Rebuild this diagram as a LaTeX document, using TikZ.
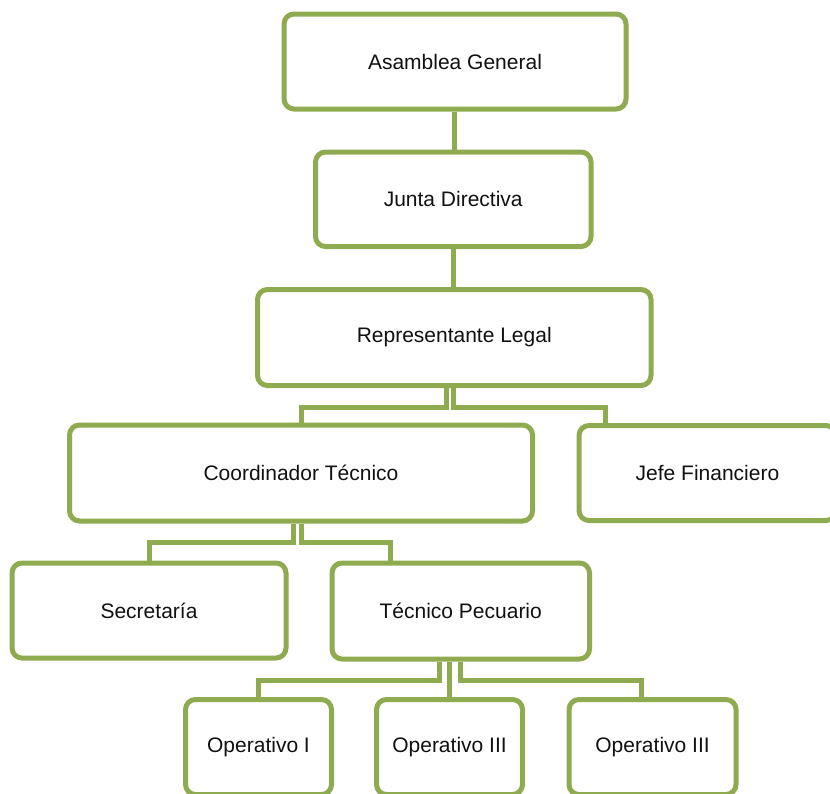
\documentclass[tikz,border=0pt]{standalone}
\usepackage{fontspec}
\setmainfont{Liberation Sans}
\usepackage{xcolor}
\usepackage{tikz}
\usetikzlibrary{positioning}
\definecolor{OrgGreen}{HTML}{8FAB4F}
\definecolor{OrgText}{HTML}{111111}
\tikzset{
  orgbox/.style={draw=OrgGreen,fill=white,line width=5pt,rounded corners=10pt,text=OrgText,font=\fontsize{21}{25}\selectfont,inner sep=0pt},
  orglink/.style={draw=OrgGreen,line width=5pt}
}
\begin{document}
\begin{tikzpicture}[x=1pt,y=-1pt]
\useasboundingbox (0,0) rectangle (830,793);
\node[orgbox,minimum width=342pt,minimum height=95pt] (asam) at (455,61.5) {Asamblea General};
\node[orgbox,minimum width=275.5pt,minimum height=94.5pt] (junta) at (453.25,199.25) {Junta Directiva};
\node[orgbox,minimum width=393.5pt,minimum height=96pt] (rep) at (454.25,337.5) {Representante Legal};
\node[orgbox,minimum width=463pt,minimum height=96pt] (coord) at (301,473) {Coordinador Técnico};
\node[orgbox,minimum width=257pt,minimum height=95pt] (jefe) at (707.5,473) {Jefe Financiero};
\node[orgbox,minimum width=274pt,minimum height=95pt] (secr) at (149,610.5) {Secretaría};
\node[orgbox,minimum width=257.5pt,minimum height=96pt] (tecn) at (460.75,611) {Técnico Pecuario};
\node[orgbox,minimum width=146pt,minimum height=95pt] (opa) at (258.5,747) {Operativo I};
\node[orgbox,minimum width=146pt,minimum height=95pt] (opb) at (449.5,747) {Operativo III};
\node[orgbox,minimum width=167pt,minimum height=95pt] (opc) at (652.5,747) {Operativo III};
% vertical links
\draw[orglink] ([xshift=-0.5pt]asam.south) -- ([xshift=-0.5pt]asam.south |- junta.north);
\draw[orglink] ([xshift=0.25pt]junta.south) -- ([xshift=0.25pt]junta.south |- rep.north);
% elbow links
\draw[orglink] ([xshift=-8pt]rep.south) -- ++(0,19) -| (coord.north);
\draw[orglink] ([xshift=-1pt]rep.south) -- ++(0,19) -| ([xshift=-102.5pt]jefe.north);
\draw[orglink] ([xshift=-8pt]coord.south) -- ++(0,19) -| (secr.north);
\draw[orglink] (coord.south) -- ++(0,19) -| ([xshift=-70pt]tecn.north);
\draw[orglink] ([xshift=-21pt]tecn.south) -- ++(0,19) -| (opa.north);
\draw[orglink] (tecn.south -| opb.north) -- (opb.north);
\draw[orglink] (tecn.south) -- ++(0,19) -| ([xshift=-11.5pt]opc.north);
\end{tikzpicture}
\end{document}
